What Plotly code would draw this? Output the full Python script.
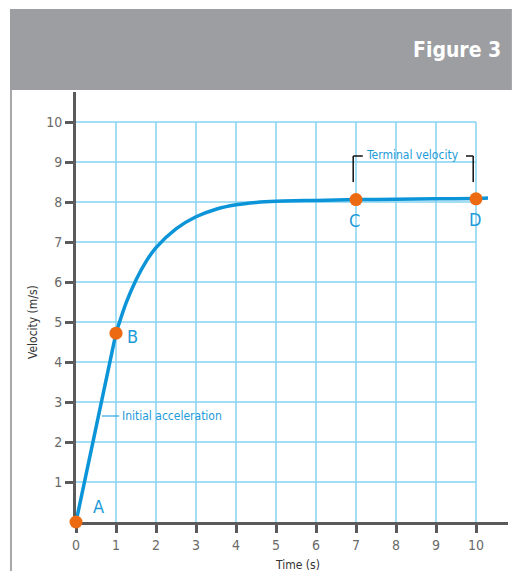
import plotly.graph_objects as go

# ---- data ----
# initial (straight) acceleration segment A -> B
accel_t = [0, 1]
accel_v = [0, 4.72]
# curved approach to terminal velocity, from B onwards
curve_t = [1, 1.25, 1.5, 1.75, 2, 2.5, 3, 3.5, 4, 4.5, 5, 6, 7, 8, 9, 10, 10.3]
curve_v = [4.72, 5.47, 6.05, 6.51, 6.86, 7.33, 7.63, 7.82, 7.93, 7.99, 8.02, 8.04, 8.06, 8.07, 8.08, 8.09, 8.1]

point_names = ["A", "B", "C", "D"]
point_t = [0, 1, 7, 10]
point_v = [0, 4.72, 8.06, 8.08]

x_ticks = [0, 1, 2, 3, 4, 5, 6, 7, 8, 9, 10]
y_ticks = [1, 2, 3, 4, 5, 6, 7, 8, 9, 10]

BLUE = "#0b95d8"
TXT_BLUE = "#1d9ad8"
ORANGE = "#ec6a12"
GRID = "#86d3f2"
AXIS = "#5a5a5a"
FONT = "DejaVu Sans Condensed, Roboto, sans-serif"

fig = go.Figure()

fig.add_trace(go.Scatter(
    x=accel_t, y=accel_v, mode="lines",
    line=dict(color=BLUE, width=3.5),
    hoverinfo="skip", cliponaxis=False, showlegend=False,
))
fig.add_trace(go.Scatter(
    x=curve_t, y=curve_v, mode="lines",
    line=dict(color=BLUE, width=3.5, shape="spline", smoothing=0.8),
    hoverinfo="skip", cliponaxis=False, showlegend=False,
))
fig.add_trace(go.Scatter(
    x=point_t, y=point_v, mode="markers",
    marker=dict(color=ORANGE, size=13),
    cliponaxis=False, showlegend=False,
))

shapes = []
# grid
for xv in x_ticks[1:]:
    shapes.append(dict(type="line", xref="x", yref="y", x0=xv, x1=xv, y0=0, y1=10,
                       line=dict(color=GRID, width=1.5), layer="below"))
for yv in y_ticks:
    shapes.append(dict(type="line", xref="x", yref="y", x0=0, x1=10, y0=yv, y1=yv,
                       line=dict(color=GRID, width=1.5), layer="below"))

# header band and left rule
shapes.append(dict(type="rect", xref="paper", yref="paper",
                   x0=-0.1528, x1=1.009, y0=1.0047, y1=1.193,
                   fillcolor="#9d9ea2", line=dict(width=0), layer="below"))
shapes.append(dict(type="line", xref="paper", yref="paper",
                   x0=-0.1505, x1=-0.1505, y0=1.0047, y1=-0.12,
                   line=dict(color="#a8a8a8", width=2)))

# terminal velocity bracket
bk = dict(color="#111111", width=1.5)
shapes += [
    dict(type="line", xref="x", yref="y", x0=6.93, x1=6.93, y0=8.5, y1=9.15, line=bk),
    dict(type="line", xref="x", yref="y", x0=6.93, x1=7.17, y0=9.15, y1=9.15, line=bk),
    dict(type="line", xref="x", yref="y", x0=9.93, x1=9.93, y0=8.5, y1=9.15, line=bk),
    dict(type="line", xref="x", yref="y", x0=9.75, x1=9.93, y0=9.15, y1=9.15, line=bk),
    # initial acceleration leader
    dict(type="line", xref="x", yref="y", x0=0.65, x1=1.08, y0=2.65, y1=2.65,
         line=dict(color=BLUE, width=1)),
]

annotations = [
    dict(text="<b>Figure 3</b>", xref="paper", yref="paper", x=0.988, y=1.098,
         xanchor="right", yanchor="middle", showarrow=False,
         font=dict(family=FONT, size=21, color="white")),
    dict(text="Velocity (m/s)", xref="paper", yref="paper", x=-0.0995, y=0.465,
         textangle=-90, showarrow=False, xanchor="center", yanchor="middle",
         font=dict(family=FONT, size=12, color="#333333")),
    dict(text="Time (s)", xref="paper", yref="paper", x=0.5116, y=-0.1,
         showarrow=False, xanchor="center", yanchor="middle",
         font=dict(family=FONT, size=12, color="#333333")),
    dict(text="Terminal velocity", xref="x", yref="y", x=8.42, y=9.18,
         showarrow=False, xanchor="center", yanchor="middle",
         font=dict(family=FONT, size=12, color=TXT_BLUE)),
    dict(text="Initial acceleration", xref="x", yref="y", x=1.1, y=2.65,
         showarrow=False, xanchor="left", yanchor="middle",
         font=dict(family=FONT, size=12, color=TXT_BLUE)),
]
label_pos = {"A": (0.55, 0.38), "B": (1.4, 4.63), "C": (6.95, 7.55), "D": (9.98, 7.57)}
for name in point_names:
    lx, ly = label_pos[name]
    annotations.append(dict(text=name, xref="x", yref="y", x=lx, y=ly, showarrow=False,
                            xanchor="center", yanchor="middle",
                            font=dict(family=FONT, size=18, color=TXT_BLUE)))

fig.update_layout(
    width=516, height=571,
    margin=dict(l=76, r=8, t=92, b=49),
    paper_bgcolor="white", plot_bgcolor="white",
    shapes=shapes, annotations=annotations,
    font=dict(family=FONT, color="#6a6a6a", size=14),
    xaxis=dict(range=[0, 10.8], tickvals=x_ticks, ticktext=[str(v) for v in x_ticks],
               showgrid=False, zeroline=False, showline=True, linecolor=AXIS, linewidth=3,
               ticks="outside", ticklen=8, tickwidth=3, tickcolor=AXIS,
               tickfont=dict(family=FONT, size=14, color="#6a6a6a"),
               layer="below traces", fixedrange=True),
    yaxis=dict(range=[0, 10.75], tickvals=y_ticks, ticktext=[str(v) for v in y_ticks],
               showgrid=False, zeroline=False, showline=True, linecolor=AXIS, linewidth=3,
               ticks="outside", ticklen=8, tickwidth=3, tickcolor=AXIS,
               tickfont=dict(family=FONT, size=14, color="#6a6a6a"),
               layer="below traces", fixedrange=True),
)

fig.write_html("out.html", config={"displayModeBar": False},
               post_script="document.body.style.margin='0';document.body.style.overflow='hidden';")
